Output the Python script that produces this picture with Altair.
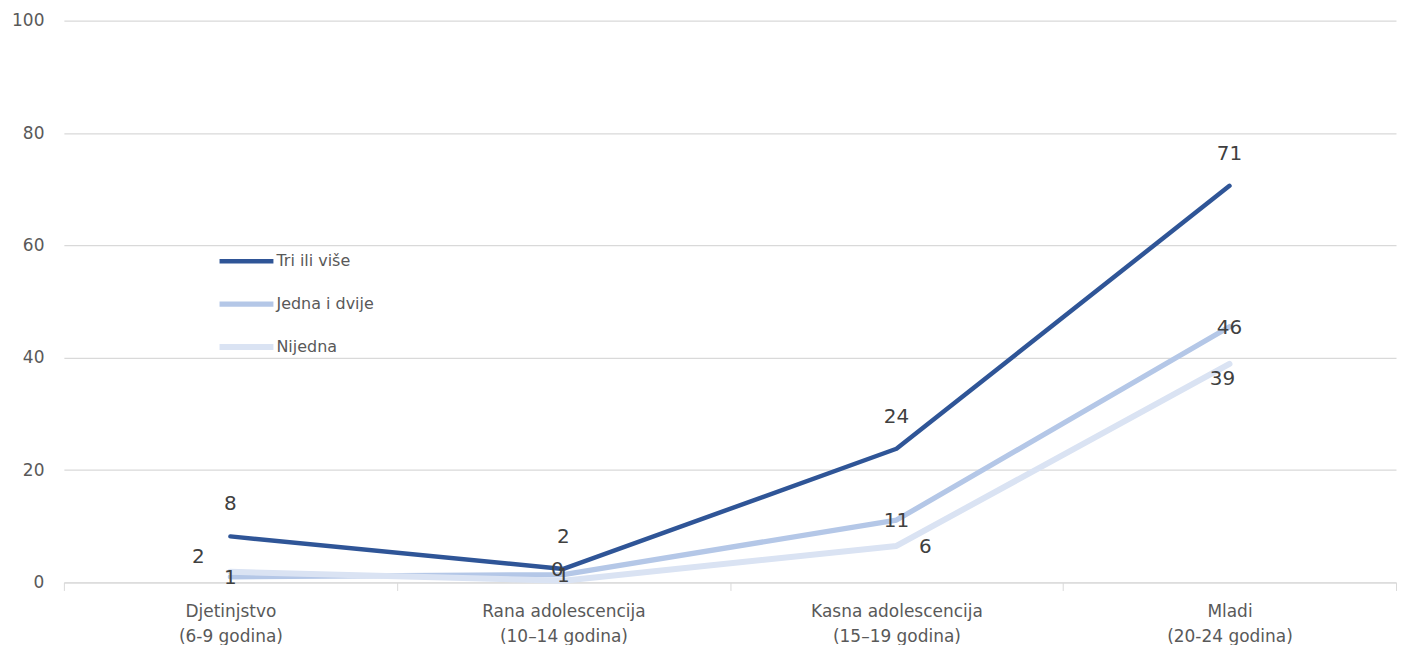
import altair as alt
import pandas as pd

categories = ["Djetinjstvo\n(6-9 godina)", "Rana adolescencija\n(10–14 godina)",
              "Kasna adolescencija\n(15–19 godina)", "Mladi\n(20-24 godina)"]
series = ["Tri ili više", "Jedna i dvije", "Nijedna"]
tri = [8.2, 2.4, 23.8, 70.6]
jedna = [1.0, 1.4, 11.1, 45.5]
nijedna = [1.9, 0.3, 6.5, 38.9]
labels_tri = [8, 2, 24, 71]
labels_jedna = [1, 1, 11, 46]
labels_nijedna = [2, 0, 6, 39]

colors = ["#2F5597", "#B4C7E7", "#DAE3F3"]
widths = [4.5, 6, 6]

rows = []
for s, vals, labs in zip(series, [tri, jedna, nijedna], [labels_tri, labels_jedna, labels_nijedna]):
    for i, (c, v, l) in enumerate(zip(categories, vals, labs)):
        rows.append({"series": s, "cat": c, "idx": i, "value": v, "label": str(l)})
df = pd.DataFrame(rows)

FONT = "DejaVu Sans"

x = alt.X("cat:N", sort=categories, title=None,
          scale=alt.Scale(paddingInner=0, paddingOuter=0),
          axis=alt.Axis(labelExpr="split(datum.label, '\\n')", labelAngle=0,
                        tickBand="extent", domainColor="#d9d9d9", tickColor="#d9d9d9",
                        tickSize=8, labelFontSize=17, labelColor="#595959",
                        labelFont=FONT, labelLineHeight=25, labelPadding=13, grid=False))
y = alt.Y("value:Q", title=None,
          scale=alt.Scale(domain=[0, 100], nice=False),
          axis=alt.Axis(values=[0, 20, 40, 60, 80, 100], tickSize=0, labelPadding=20,
                        domain=False, gridColor="#d9d9d9", gridWidth=1.3,
                        labelFontSize=17, labelColor="#595959", labelFont=FONT))

base = alt.Chart(df)

lines = base.mark_line(strokeCap="round", strokeJoin="round").encode(
    x=x, y=y,
    color=alt.Color("series:N", sort=series,
                    scale=alt.Scale(domain=series, range=colors),
                    legend=alt.Legend(title=None, orient="none", legendX=153, legendY=231,
                                      symbolType="stroke", symbolSize=2916,
                                      symbolStrokeWidth=5, clipHeight=20, rowPadding=23,
                                      labelFontSize=16, labelColor="#595959", labelFont=FONT,
                                      labelOffset=0)),
    strokeWidth=alt.StrokeWidth("series:N", scale=alt.Scale(domain=series, range=widths), legend=None),
    order=alt.Order("idx:Q"),
)

txt_style = dict(fontSize=20, color="#404040", font=FONT, baseline="middle", align="center")

t_tri = base.transform_filter(alt.datum.series == "Tri ili više").mark_text(dy=-32, **txt_style).encode(
    x=alt.X("cat:N", sort=categories), y="value:Q", text="label:N")
t_jed = base.transform_filter(alt.datum.series == "Jedna i dvije").mark_text(dy=1, **txt_style).encode(
    x=alt.X("cat:N", sort=categories), y="value:Q", text="label:N")

nij_offsets = {0: (-32, -15), 1: (-6, -11), 2: (29, 1), 3: (-7, 15)}
t_nij = []
for i, (dx, dy) in nij_offsets.items():
    t_nij.append(base.transform_filter((alt.datum.series == "Nijedna") & (alt.datum.idx == i))
                 .mark_text(dx=dx, dy=dy, **txt_style)
                 .encode(x=alt.X("cat:N", sort=categories), y="value:Q", text="label:N"))

chart = alt.layer(lines, t_tri, t_jed, *t_nij).properties(
    width=1335, height=563, background="white",
    padding={"left": 3, "top": 3, "right": 0, "bottom": 0},
).configure_view(stroke=None)

chart.save("out.html", embed_options={"renderer": "svg", "actions": False})
